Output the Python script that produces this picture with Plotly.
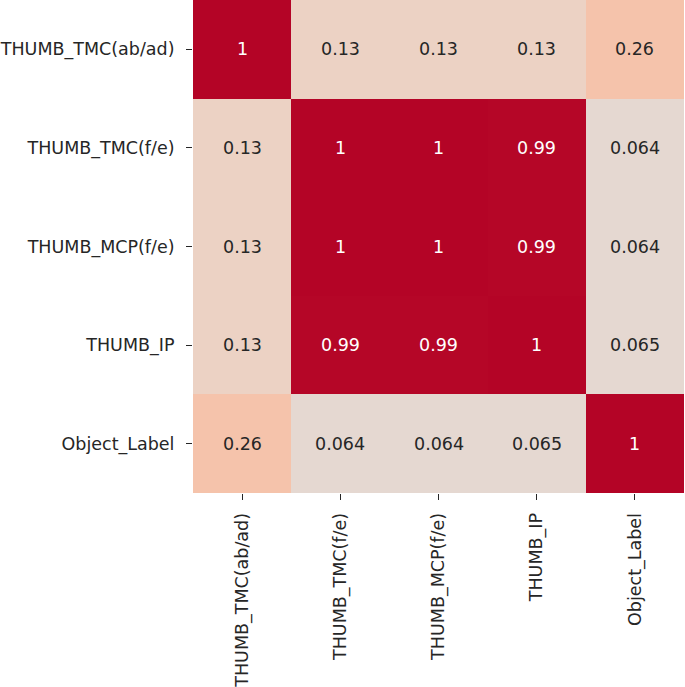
import plotly.graph_objects as go

labels = ["THUMB_TMC(ab/ad)", "THUMB_TMC(f/e)", "THUMB_MCP(f/e)", "THUMB_IP", "Object_Label"]
row_tmc_abad = [1, 0.13, 0.13, 0.13, 0.26]
row_tmc_fe = [0.13, 1, 1, 0.99, 0.064]
row_mcp_fe = [0.13, 1, 1, 0.99, 0.064]
row_ip = [0.13, 0.99, 0.99, 1, 0.065]
row_obj = [0.26, 0.064, 0.064, 0.065, 1]
corr = [row_tmc_abad, row_tmc_fe, row_mcp_fe, row_ip, row_obj]

coolwarm = [
    (0.0, (59, 76, 192)), (0.03125, (68, 90, 204)), (0.0625, (77, 104, 215)),
    (0.09375, (87, 117, 225)), (0.125, (98, 130, 234)), (0.15625, (108, 142, 241)),
    (0.1875, (119, 154, 247)), (0.21875, (130, 165, 251)), (0.25, (141, 176, 254)),
    (0.28125, (152, 185, 255)), (0.3125, (163, 194, 255)), (0.34375, (174, 201, 253)),
    (0.375, (184, 208, 249)), (0.40625, (194, 213, 244)), (0.4375, (204, 217, 238)),
    (0.46875, (213, 219, 230)), (0.5, (221, 221, 221)), (0.53125, (229, 216, 209)),
    (0.5625, (236, 211, 197)), (0.59375, (241, 204, 185)), (0.625, (245, 196, 173)),
    (0.65625, (247, 187, 160)), (0.6875, (247, 177, 148)), (0.71875, (247, 166, 135)),
    (0.75, (244, 154, 123)), (0.78125, (241, 141, 111)), (0.8125, (236, 127, 99)),
    (0.84375, (229, 112, 88)), (0.875, (222, 96, 77)), (0.90625, (213, 80, 66)),
    (0.9375, (203, 62, 56)), (0.96875, (192, 40, 47)), (0.99, (181, 8, 39)), (1.0, (180, 4, 38)),
]
colorscale = [[p, "rgb(%d,%d,%d)" % c] for p, c in coolwarm]

FONT = "DejaVu Sans"
fig = go.Figure(go.Heatmap(
    z=corr, x=labels, y=labels, zmin=-1, zmax=1,
    colorscale=colorscale, showscale=False, hoverinfo="skip",
))

annotations = []
for i, row in enumerate(corr):
    for j, v in enumerate(row):
        txt = format(v, ".2g")
        color = "#ffffff" if v > 0.6 else "#262626"
        annotations.append(dict(x=labels[j], y=labels[i], text=txt, showarrow=False,
                                font=dict(family=FONT, size=17.5, color=color)))

fig.update_layout(
    width=685, height=687,
    margin=dict(l=193, r=1, t=0, b=194, pad=0),
    paper_bgcolor="white", plot_bgcolor="white",
    font=dict(family=FONT, size=17.5, color="#262626"),
    annotations=annotations,
)
fig.update_xaxes(tickangle=-90, ticks="outside", ticklen=6, tickwidth=1.3, tickcolor="#262626",
                 showgrid=False, zeroline=False, showline=False, ticklabelstandoff=6,
                 automargin=False)
fig.update_yaxes(autorange="reversed", ticks="outside", ticklen=6, tickwidth=1.3, tickcolor="#262626",
                 showgrid=False, zeroline=False, showline=False, ticklabelstandoff=8,
                 automargin=False)

fig.write_html("out.html", config={"displayModeBar": False},
               post_script="document.body.style.margin='0px';")
